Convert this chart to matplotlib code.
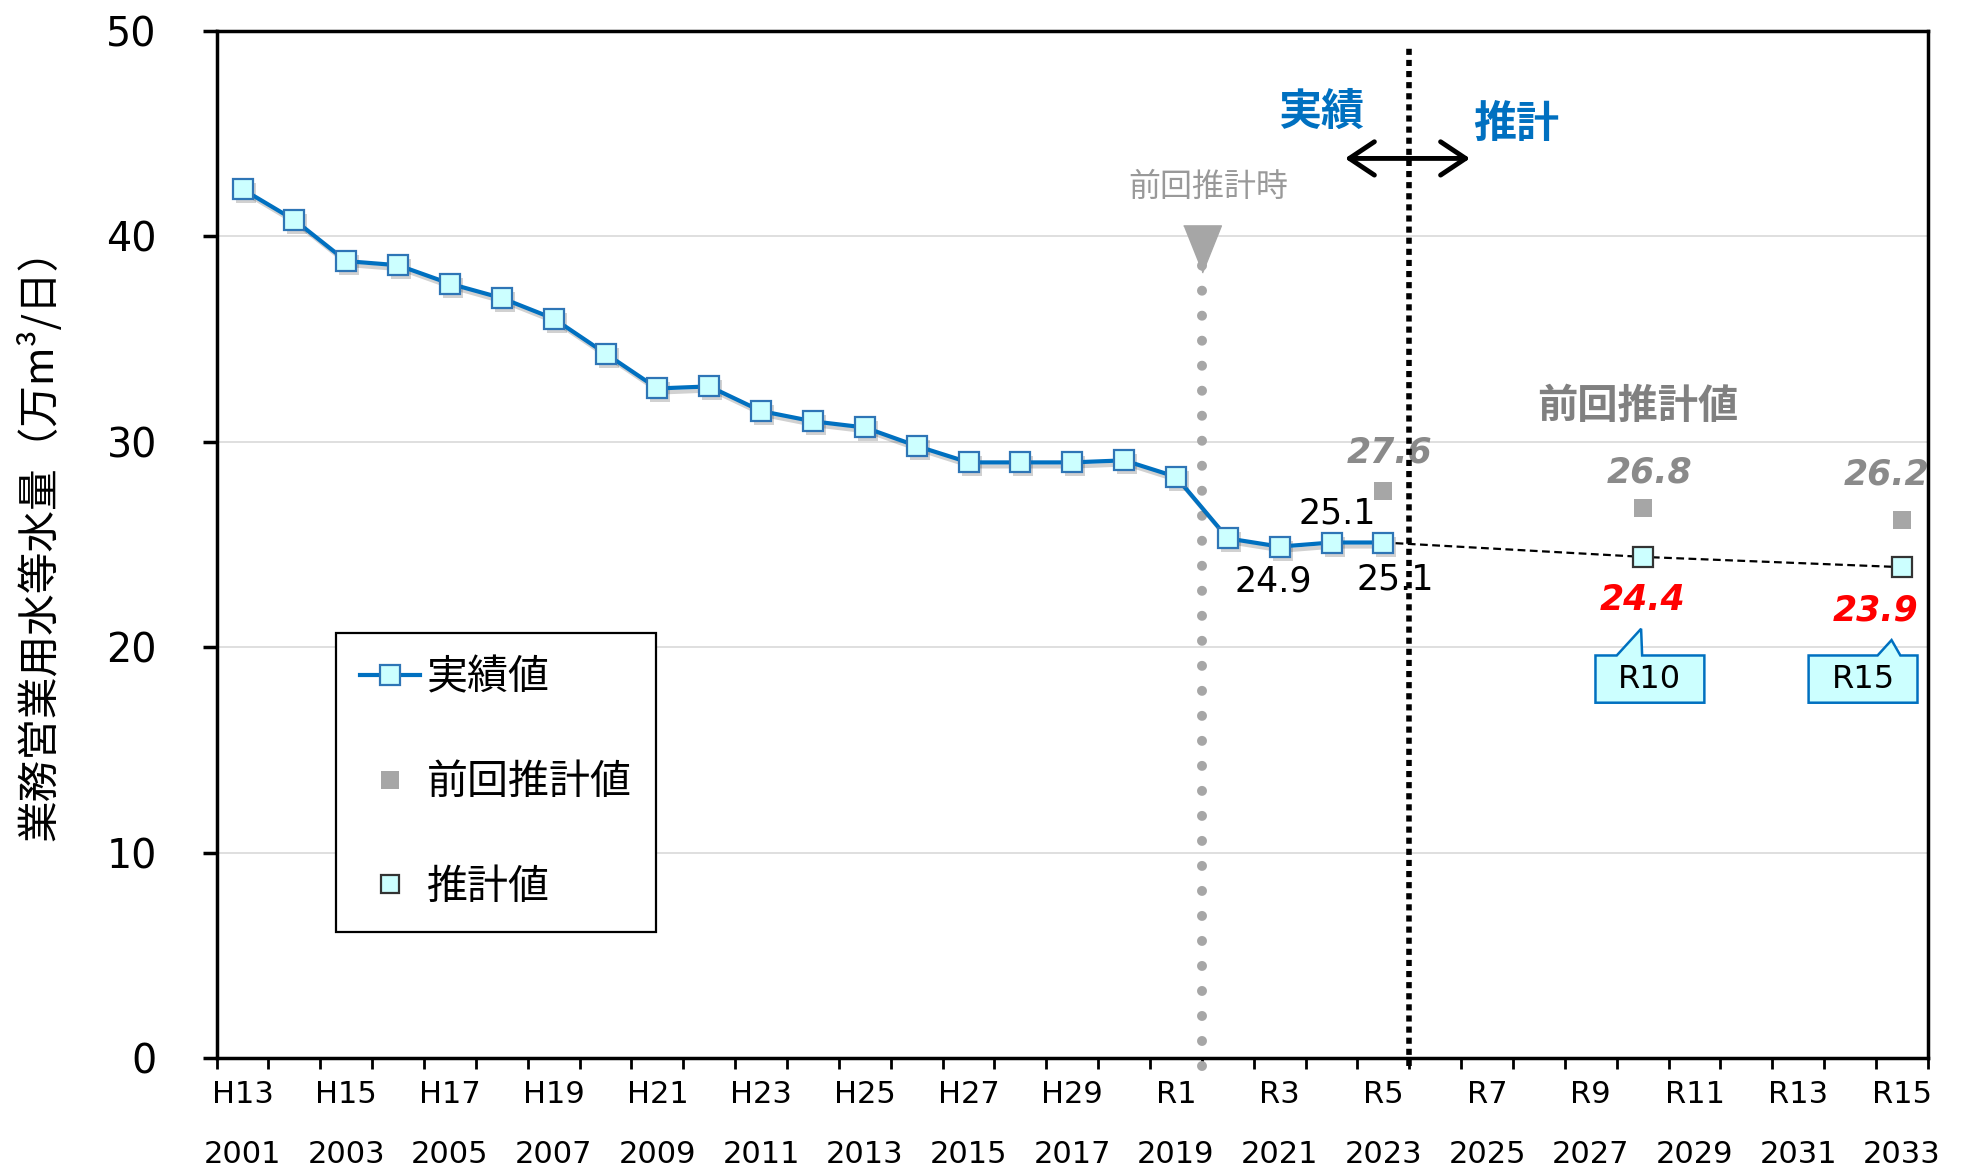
import numpy as np
import matplotlib
matplotlib.use("Agg")
import matplotlib.pyplot as plt
from matplotlib.patches import Polygon
from matplotlib.lines import Line2D
from matplotlib.transforms import offset_copy

# ---- palette / fonts ------------------------------------------------------
BLUE = "#0070C0"
CYAN = "#CCFFFF"
GRAY = "#A6A6A6"
DGRAY = "#808080"
RED = "#FF0000"
JP = ["Noto Sans CJK JP", "DejaVu Sans"]
NUM = ["DejaVu Sans"]

plt.rcParams["font.family"] = JP

# ---- data -----------------------------------------------------------------
actual_years = list(range(2001, 2024))
actual_vals = [42.3, 40.8, 38.8, 38.6, 37.7, 37.0, 36.0, 34.3, 32.6, 32.7,
               31.5, 31.0, 30.7, 29.8, 29.0, 29.0, 29.0, 29.1, 28.3, 25.3,
               24.9, 25.1, 25.1]
prev_years = [2023, 2028, 2033]
prev_vals = [27.6, 26.8, 26.2]
fc_line_years = [2023, 2028, 2033]
fc_line_vals = [25.1, 24.4, 23.9]
fc_years = [2028, 2033]
fc_vals = [24.4, 23.9]

label_years = list(range(2001, 2034, 2))
era_labels = ["H13", "H15", "H17", "H19", "H21", "H23", "H25", "H27", "H29",
              "R1", "R3", "R5", "R7", "R9", "R11", "R13", "R15"]

PREV_EST_YEAR = 2019.5   # 前回推計時
SPLIT_YEAR = 2023.5      # 実績 / 推計 boundary

# ---- figure ---------------------------------------------------------------
fig = plt.figure(figsize=(19.64, 11.73), dpi=100)
ax = fig.add_axes([0.1103, 0.098, 0.8713, 0.8755])

ax.set_xlim(2000.5, 2033.5)
ax.set_ylim(0, 50)

# grid + frame
ax.set_yticks(range(0, 51, 10))
ax.grid(axis="y", color="#D9D9D9", linewidth=1.2, zorder=0)
for s in ax.spines.values():
    s.set_linewidth(2.5)
    s.set_color("black")
    s.set_zorder(6)

ax.tick_params(axis="y", direction="out", length=10, width=2.5, pad=33,
               labelsize=28.5)
for t in ax.get_yticklabels():
    t.set_fontfamily(NUM)

# x: ticks on category boundaries, labels at centers (two rows)
ax.set_xticks(np.arange(2000.5, 2034, 1.0))
ax.tick_params(axis="x", which="major", direction="out", length=8, width=2,
               labelbottom=False)
ax.set_xticks(label_years, minor=True)
ax.set_xticklabels([f"{e}\n{y}" for e, y in zip(era_labels, label_years)],
                   minor=True, fontsize=22, linespacing=2.35, family=NUM)
ax.tick_params(axis="x", which="minor", length=0, pad=16)

ax.set_ylabel("業務営業用水等水量（万m³/日）", fontsize=30, va="center")
ax.yaxis.set_label_coords(-0.104, 0.51)

# ---- reference lines ------------------------------------------------------
ax.vlines(PREV_EST_YEAR, -0.4, 38.7, colors=GRAY, linewidth=7.2,
          linestyles=[(0, (0.001, 2.5))], capstyle="round", clip_on=False,
          zorder=2)
ax.plot([PREV_EST_YEAR], [39.4], marker=[(-0.8, 1), (0.8, 1), (0, -1)],
        markersize=34, color=GRAY, linestyle="none", zorder=3)
ax.text(PREV_EST_YEAR + 0.13, 42.4, "前回推計時", fontsize=23, color="#999999",
        ha="center", va="center")

ax.vlines(SPLIT_YEAR, -0.4, 49.2, colors="black", linewidth=4,
          linestyles=[(0, (1.1, 0.9))], clip_on=False, zorder=8)
ax.annotate("", xy=(2024.67, 43.8), xytext=(2022.26, 43.8),
            arrowprops=dict(arrowstyle="<->,head_length=0.45,head_width=0.3",
                            lw=3.5, color="black", shrinkA=0, shrinkB=0,
                            mutation_scale=40), zorder=9)
ax.text(2021.8, 46.05, "実績", fontsize=31, fontweight="bold", color=BLUE,
        ha="center", va="center")
ax.text(2025.56, 45.5, "推計", fontsize=31, fontweight="bold", color=BLUE,
        ha="center", va="center")
ax.text(2027.9, 31.7, "前回推計値", fontsize=29, fontweight="bold", color=DGRAY,
        ha="center", va="center")

# ---- series ---------------------------------------------------------------
shadow_tr = offset_copy(ax.transData, fig=fig, x=3, y=-4, units="dots")
ax.plot(actual_years, actual_vals, color="#000000", alpha=0.18, lw=3,
        marker="s", markersize=14, markeredgewidth=0, transform=shadow_tr,
        zorder=3)
ax.plot(actual_years, actual_vals, color=BLUE, lw=3, marker="s",
        markersize=14, markerfacecolor=CYAN, markeredgecolor="#2E75B6",
        markeredgewidth=1.6, zorder=4)

ax.plot(fc_line_years, fc_line_vals, color="black", lw=1.6,
        linestyle=(0, (3.5, 2)), zorder=3)
ax.plot(fc_years, fc_vals, linestyle="none", marker="s", markersize=14,
        markerfacecolor=CYAN, markeredgecolor="#333333", markeredgewidth=1.6,
        zorder=5)
ax.plot(prev_years, prev_vals, linestyle="none", marker="s", markersize=13,
        color=GRAY, markeredgewidth=0, zorder=4)

# ---- value labels ---------------------------------------------------------
num_kw = dict(ha="center", va="center", family=NUM)
ax.text(2023.12, 29.5, "27.6", fontsize=25, color="#8A8A8A", style="italic",
        fontweight="bold", **num_kw)
ax.text(2028.14, 28.5, "26.8", fontsize=25, color="#8A8A8A", style="italic",
        fontweight="bold", **num_kw)
ax.text(2032.7, 28.4, "26.2", fontsize=25, color="#8A8A8A", style="italic",
        fontweight="bold", **num_kw)
ax.text(2022.12, 26.5, "25.1", fontsize=25, color="black", **num_kw)
ax.text(2020.87, 23.2, "24.9", fontsize=25, color="black", **num_kw)
ax.text(2023.23, 23.3, "25.1", fontsize=25, color="black", **num_kw, zorder=1)
ax.text(2028.0, 22.3, "24.4", fontsize=25, color=RED, style="italic",
        fontweight="bold", **num_kw)
ax.text(2032.5, 21.8, "23.9", fontsize=25, color=RED, style="italic",
        fontweight="bold", **num_kw)


# ---- callouts -------------------------------------------------------------
def callout(left, right, bottom, top, base_l, base_r, tip, text):
    verts = [(left, bottom), (right, bottom), (right, top), (base_r, top),
             tip, (base_l, top), (left, top)]
    ax.add_patch(Polygon(verts, closed=True, facecolor=CYAN, edgecolor=BLUE,
                         linewidth=1.8, zorder=6))
    ax.text((left + right) / 2, (bottom + top) / 2, text, fontsize=23,
            ha="center", va="center", family=NUM, zorder=7)


callout(2027.09, 2029.19, 17.3, 19.6, 2027.5, 2027.99, (2027.97, 20.9), "R10")
callout(2031.2, 2033.3, 17.3, 19.6, 2032.53, 2032.97, (2032.8, 20.35), "R15")

# ---- legend ---------------------------------------------------------------
handles = [
    Line2D([], [], color=BLUE, lw=3, marker="s", markersize=14,
           markerfacecolor=CYAN, markeredgecolor="#2E75B6", markeredgewidth=1.6),
    Line2D([], [], linestyle="none", marker="s", markersize=13, color=GRAY,
           markeredgewidth=0),
    Line2D([], [], linestyle="none", marker="s", markersize=13,
           markerfacecolor=CYAN, markeredgecolor="#333333", markeredgewidth=1.6),
]
leg = ax.legend(handles, ["実績値", "前回推計値", "推計値"], loc="upper left",
                bbox_to_anchor=(0.0697, 0.4138), borderaxespad=0,
                fontsize=29.5, frameon=True, fancybox=False, framealpha=1,
                edgecolor="black", borderpad=0.6, labelspacing=1.55,
                handlelength=1.45, handletextpad=0.16, numpoints=1)
leg.get_frame().set_linewidth(1.6)
leg.set_zorder(10)

fig.savefig("out.png", dpi=100, facecolor="white")
